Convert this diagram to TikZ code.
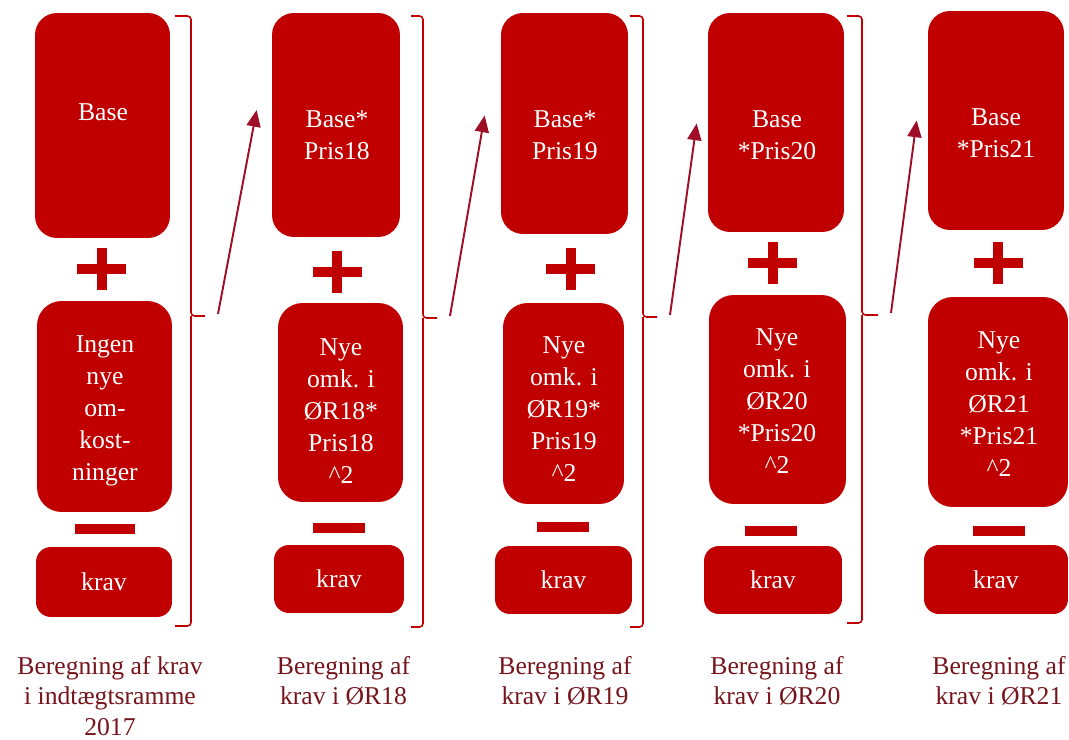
\documentclass[tikz,border=0pt]{standalone}
\usepackage{fontspec}
\setmainfont{Liberation Serif}
\usetikzlibrary{arrows.meta}
\definecolor{boxred}{RGB}{192,0,0}
\definecolor{captionred}{RGB}{118,20,28}
\definecolor{arrowred}{RGB}{158,14,38}
\tikzset{
  box/.style={fill=boxred, draw=none, inner sep=0pt},
  basebox/.style={box, rounded corners=12.5pt},
  nyebox/.style={box, rounded corners=14pt},
  kravbox/.style={box, rounded corners=8.5pt},
  boxtext/.style={text=white, align=center, inner sep=0pt, font=\fontsize{14.6}{18.2}\selectfont},
  caption/.style={text=captionred, align=center, anchor=north, inner sep=0pt, font=\fontsize{14.6}{17.4}\selectfont},
  brace/.style={draw=boxred, line width=0.9pt, rounded corners=2pt},
  arr/.style={draw=arrowred, line width=1.1pt, -{Triangle[length=9.5pt,width=8pt]}},
}
\begin{document}
\begin{tikzpicture}[x=0.02cm, y=-0.02cm]
    \useasboundingbox (0,0) rectangle (1069,740);
    % first column, indtaegtsramme 2017
    \node[basebox, minimum width=2.70cm, minimum height=4.50cm] (base1) at (102.5,125.5) {};
    \node[boxtext] (base1txt) at (103,112) {Base};
    \node[nyebox, minimum width=2.70cm, minimum height=4.22cm] (nye1) at (104.5,406.5) {};
    \node[boxtext] (nye1txt) at (105,411) {Ingen\\nye\\om-\\kost-\\ninger};
    \node[kravbox, minimum width=2.72cm, minimum height=1.40cm] (krav1) at (104,582) {};
    \node[boxtext] (krav1txt) at (krav1) {krav};
    % OR18
    \node[basebox, minimum width=2.56cm, minimum height=4.48cm] (base2) at (336,125) {};
    \node[boxtext] (base2txt) at (337,135) {Base*\\Pris18};
    \node[nyebox, minimum width=2.50cm, minimum height=3.98cm] (nye2) at (340.5,402.5) {};
    \node[boxtext] (nye2txt) at (341,411) {Nye\\omk. i\\ØR18*\\Pris18\\\textasciicircum2};
    \node[kravbox, minimum width=2.60cm, minimum height=1.36cm] (krav2) at (339,579) {};
    \node[boxtext] (krav2txt) at (krav2) {krav};
    % OR19
    \node[basebox, minimum width=2.54cm, minimum height=4.42cm] (base3) at (564.5,123.5) {};
    \node[boxtext] (base3txt) at (565,135) {Base*\\Pris19};
    \node[nyebox, minimum width=2.42cm, minimum height=4.02cm] (nye3) at (563.5,403.5) {};
    \node[boxtext] (nye3txt) at (564,409.5) {Nye\\omk. i\\ØR19*\\Pris19\\\textasciicircum2};
    \node[kravbox, minimum width=2.74cm, minimum height=1.36cm] (krav3) at (563.5,580) {};
    \node[boxtext] (krav3txt) at (krav3) {krav};
    % OR20
    \node[basebox, minimum width=2.72cm, minimum height=4.38cm] (base4) at (776,122.5) {};
    \node[boxtext] (base4txt) at (777,135.5) {Base\\*Pris20};
    \node[nyebox, minimum width=2.74cm, minimum height=4.18cm] (nye4) at (777.5,399.5) {};
    \node[boxtext] (nye4txt) at (777,401.5) {Nye\\omk. i\\ØR20\\*Pris20\\\textasciicircum2};
    \node[kravbox, minimum width=2.76cm, minimum height=1.36cm] (krav4) at (773,580) {};
    \node[boxtext] (krav4txt) at (krav4) {krav};
    % OR21
    \node[basebox, minimum width=2.72cm, minimum height=4.38cm] (base5) at (996,120.5) {};
    \node[boxtext] (base5txt) at (996,133) {Base\\*Pris21};
    \node[nyebox, minimum width=2.80cm, minimum height=4.20cm] (nye5) at (998,402) {};
    \node[boxtext] (nye5txt) at (999,404.5) {Nye\\omk. i\\ØR21\\*Pris21\\\textasciicircum2};
    \node[kravbox, minimum width=2.88cm, minimum height=1.38cm] (krav5) at (996,579.5) {};
    \node[boxtext] (krav5txt) at (krav5) {krav};
    % plus and minus signs
    \foreach \x/\y in {101.5/269, 337/271.5, 570.5/268.5, 772.5/262.5, 998/262.5} {
        \fill[boxred] (\x-24.5,\y-5) rectangle (\x+24.5,\y+5);
        \fill[boxred] (\x-5,\y-21) rectangle (\x+5,\y+21);
    }
    \foreach \x/\y/\w in {105/528.5/30, 339/528/26, 563/527/26, 771/531/26, 999/531/26}
        \fill[boxred] (\x-\w,\y-5) rectangle (\x+\w,\y+5);
    % braces
    \foreach \i/\l/\v/\t/\m/\b in {1/175/191/205/316/626, 2/411/423/437/318/627, 3/630/643/657/317/627, 4/847/862/878/315/623}
        \draw[brace] (\l,16) -| (\v,\m) -- (\t,\m) coordinate (tip\i) (\v,\m) |- (\l,\b);
    % arrows
    \foreach \i/\j/\dx/\dy in {1/2/-15/-15, 2/3/-16/-8, 3/4/-11/1, 4/5/-11/0}
        \draw[arr] ([shift={(13,-2)}]tip\i) -- ([shift={(\dx,\dy)}]base\j.west);
    % captions
    \node[caption] (cap1) at (110,656) {Beregning af krav\\i indtægtsramme\\2017};
    \node[caption] (cap2) at (343.5,656) {Beregning af\\krav i ØR18};
    \node[caption] (cap3) at (565,656) {Beregning af\\krav i ØR19};
    \node[caption] (cap4) at (777,656) {Beregning af\\krav i ØR20};
    \node[caption] (cap5) at (999,656) {Beregning af\\krav i ØR21};
\end{tikzpicture}
\end{document}
